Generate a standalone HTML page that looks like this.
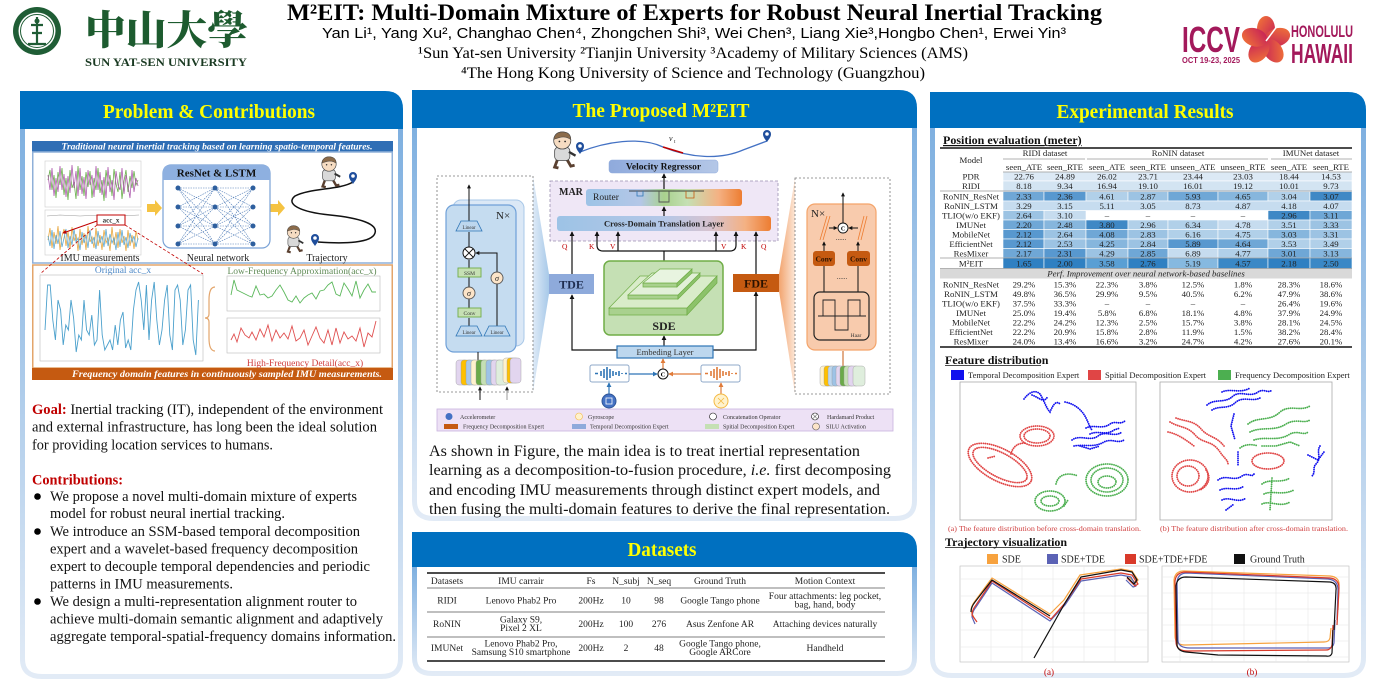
<!DOCTYPE html>
<html><head><meta charset="utf-8">
<style>
html,body{margin:0;padding:0;background:#fff;width:1394px;height:693px;overflow:hidden;}
svg{display:block;}
text{font-family:"Liberation Serif","Noto Serif CJK SC",serif;}
.sans{font-family:"Liberation Sans","DejaVu Sans",sans-serif;}
</style></head><body>
<svg width="1394" height="693" viewBox="0 0 1394 693" xmlns="http://www.w3.org/2000/svg">
<defs>
<linearGradient id="side" x1="0" y1="0" x2="0" y2="1"><stop offset="0" stop-color="#7fb0e0"/><stop offset="1" stop-color="#e2ebf6"/></linearGradient>
<linearGradient id="rg" x1="0" y1="0" x2="1" y2="0"><stop offset="0" stop-color="#9dc3e6"/><stop offset=".35" stop-color="#b4c7e7"/><stop offset=".5" stop-color="#a9d18e"/><stop offset=".65" stop-color="#c5e0b4"/><stop offset=".85" stop-color="#f4b183"/><stop offset="1" stop-color="#ed7d31"/></linearGradient>
<linearGradient id="cg" x1="0" y1="0" x2="1" y2="0"><stop offset="0" stop-color="#9dc3e6"/><stop offset=".5" stop-color="#b4c7e7"/><stop offset=".72" stop-color="#d8c3cf"/><stop offset=".88" stop-color="#f4b183"/><stop offset="1" stop-color="#ed7d31"/></linearGradient>
<linearGradient id="vg" x1="0" y1="0" x2="1" y2="0"><stop offset="0" stop-color="#8faadc"/><stop offset="1" stop-color="#b4c7e7"/></linearGradient>
<linearGradient id="fl" x1="0" y1="0" x2="1" y2="0"><stop offset="0" stop-color="#dbe8f6"/><stop offset="1" stop-color="#9dc3e6"/></linearGradient>
<linearGradient id="fr" x1="0" y1="0" x2="1" y2="0"><stop offset="0" stop-color="#f19a5e"/><stop offset="1" stop-color="#fbe3d2"/></linearGradient>
<linearGradient id="flower" x1="0" y1="0" x2="1" y2="1"><stop offset="0" stop-color="#f47a35"/><stop offset="1" stop-color="#c2185b"/></linearGradient>
<marker id="ah" viewBox="0 0 6 6" refX="5" refY="3" markerWidth="4" markerHeight="4" orient="auto"><path d="M0 0L6 3L0 6Z" fill="#111"/></marker>
<marker id="ahb" viewBox="0 0 6 6" refX="5" refY="3" markerWidth="4" markerHeight="4" orient="auto"><path d="M0 0L6 3L0 6Z" fill="#2e75b6"/></marker>
<marker id="aho" viewBox="0 0 6 6" refX="5" refY="3" markerWidth="4" markerHeight="4" orient="auto"><path d="M0 0L6 3L0 6Z" fill="#e07b39"/></marker>
<marker id="ahr" viewBox="0 0 6 6" refX="5" refY="3" markerWidth="4" markerHeight="4" orient="auto"><path d="M0 0L6 3L0 6Z" fill="#c00000"/></marker>
<g id="kid">
 <path d="M10 30 L7 38 L11 39 M20 30 L24 37 L28 36" stroke="#5a4030" stroke-width="3" fill="none"/>
 <rect x="7" y="17" width="16" height="14" rx="4" fill="#d9d9d9" stroke="#444" stroke-width=".8"/>
 <circle cx="15" cy="10" r="9" fill="#f6dcc2" stroke="#444" stroke-width=".8"/>
 <path d="M6 9 Q7 1 15 1 Q24 1 24 9 Q18 5 12 7 Q8 8 6 9Z" fill="#8b6b4a" stroke="#444" stroke-width=".6"/>
 <circle cx="12" cy="11" r=".9" fill="#222"/><circle cx="18" cy="11" r=".9" fill="#222"/>
 <path d="M22 22 L29 26" stroke="#333" stroke-width="2.5"/>
</g>
<g id="pin"><path d="M0 0 C-2 -3 -4 -5 -4 -8 A4 4 0 1 1 4 -8 C4 -5 2 -3 0 0Z" fill="#1f4e9c"/><circle cx="0" cy="-8" r="1.8" fill="#fff"/></g>
</defs>

<!-- ============ HEADER ============ -->
<circle cx="37" cy="31" r="24" fill="#1f5d35"/>
<circle cx="37" cy="31" r="18.5" fill="#fff"/>
<circle cx="37" cy="31" r="16.5" fill="none" stroke="#1f5d35" stroke-width="1"/>
<path d="M37 17 L37 44 M31 25 L43 25 M32 33 L42 33 M28 44 L46 44" stroke="#1f5d35" stroke-width="2.2" fill="none"/>
<circle cx="37" cy="21" r="2.5" fill="#1f5d35"/>
<text x="85" y="44" font-family="Noto Serif CJK SC, serif" font-size="40" font-weight="900" fill="#1d5b2f" textLength="163" lengthAdjust="spacingAndGlyphs">中山大學</text>
<text x="85" y="66" font-size="11.5" font-weight="bold" fill="#1a3a22" textLength="162" lengthAdjust="spacingAndGlyphs">SUN  YAT-SEN UNIVERSITY</text>

<text x="287" y="20" font-size="23" font-weight="bold" fill="#000" textLength="815" lengthAdjust="spacingAndGlyphs">M²EIT: Multi-Domain Mixture of Experts for Robust Neural Inertial Tracking</text>
<text class="sans" x="322" y="38" font-size="15" fill="#000" textLength="744" lengthAdjust="spacingAndGlyphs">Yan Li¹, Yang Xu², Changhao Chen⁴, Zhongchen Shi³, Wei Chen³, Liang Xie³,Hongbo Chen¹, Erwei Yin³</text>
<text x="418" y="58" font-size="16" fill="#000" textLength="550" lengthAdjust="spacingAndGlyphs">¹Sun Yat-sen University ²Tianjin University ³Academy of Military Sciences (AMS)</text>
<text x="461" y="78" font-size="16" fill="#000" textLength="464" lengthAdjust="spacingAndGlyphs">⁴The Hong Kong University of Science and Technology (Guangzhou)</text>

<!-- ICCV logo -->
<text class="sans" x="1182" y="52" font-size="36" font-weight="bold" fill="#a3195b" textLength="58" lengthAdjust="spacingAndGlyphs">ICCV</text>
<text class="sans" x="1182" y="63" font-size="8" font-weight="bold" fill="#a3195b" textLength="58" lengthAdjust="spacingAndGlyphs">OCT 19-23, 2025</text>
<g transform="translate(1266,41)" fill="url(#flower)">
<ellipse cx="0" cy="-12" rx="9" ry="13"/>
<ellipse cx="0" cy="-12" rx="9" ry="13" transform="rotate(72)"/>
<ellipse cx="0" cy="-12" rx="9" ry="13" transform="rotate(144)"/>
<ellipse cx="0" cy="-12" rx="9" ry="13" transform="rotate(216)"/>
<ellipse cx="0" cy="-12" rx="9" ry="13" transform="rotate(288)"/>
<path d="M0 0 L12 -16" stroke="#fff" stroke-width="1.5"/>
</g>
<text class="sans" x="1291" y="37" font-size="17" font-weight="bold" fill="#a3195b" textLength="62" lengthAdjust="spacingAndGlyphs">HONOLULU</text>
<text class="sans" x="1291" y="63" font-size="28" font-weight="bold" fill="#a3195b" textLength="62" lengthAdjust="spacingAndGlyphs">HAWAII</text>

<!-- ============ PANELS ============ -->
<!-- left -->
<path d="M22.5 129 L22.5 659 Q22.5 676.5 42 676.5 L381 676.5 Q400.5 676.5 400.5 659 L400.5 129" fill="#fff" stroke="url(#side)" stroke-width="5"/>
<path d="M20 91 L385 91 Q403 91 403 109 L403 129 L20 129Z" fill="#0070c0"/>
<text x="209" y="118" text-anchor="middle" font-size="20" font-weight="bold" fill="#ffff00" textLength="212" lengthAdjust="spacingAndGlyphs">Problem &amp; Contributions</text>
<!-- middle -->
<path d="M414.5 128 L414.5 501 Q414.5 518.5 434 518.5 L895 518.5 Q914.5 518.5 914.5 501 L914.5 128" fill="#fff" stroke="url(#side)" stroke-width="5"/>
<path d="M412 90 L899 90 Q917 90 917 108 L917 128 L412 128Z" fill="#0070c0"/>
<text x="661" y="117" text-anchor="middle" font-size="20" font-weight="bold" fill="#ffff00" textLength="177" lengthAdjust="spacingAndGlyphs">The Proposed M²EIT</text>
<!-- datasets -->
<path d="M414.5 567 L414.5 658 Q414.5 673.5 432 673.5 L897 673.5 Q914.5 673.5 914.5 658 L914.5 567" fill="#fff" stroke="url(#side)" stroke-width="5"/>
<path d="M412 532 L899 532 Q917 532 917 550 L917 567 L412 567Z" fill="#0070c0"/>
<text x="662" y="556" text-anchor="middle" font-size="20" font-weight="bold" fill="#ffff00" textLength="69" lengthAdjust="spacingAndGlyphs">Datasets</text>
<!-- right -->
<path d="M932.5 128 L932.5 658 Q932.5 675.5 952 675.5 L1344 675.5 Q1363.5 675.5 1363.5 658 L1363.5 128" fill="#fff" stroke="url(#side)" stroke-width="5"/>
<path d="M930 92 L1348 92 Q1366 92 1366 110 L1366 128 L930 128Z" fill="#0070c0"/>
<text x="1145" y="118" text-anchor="middle" font-size="20" font-weight="bold" fill="#ffff00" textLength="177" lengthAdjust="spacingAndGlyphs">Experimental Results</text>

<!-- ============ LEFT FIGURE ============ -->
<rect x="32" y="141" width="361" height="11" fill="#2f6eb5"/>
<text x="217" y="149.5" text-anchor="middle" font-size="9.5" font-style="italic" font-weight="bold" fill="#fff" textLength="311" lengthAdjust="spacingAndGlyphs">Traditional neural inertial tracking based on learning spatio-temporal features.</text>
<rect x="32.75" y="152" width="359.5" height="111" fill="#fff" stroke="#8fb0d9" stroke-width="1.5"/>
<!-- IMU plots -->
<rect x="45" y="161" width="96" height="46" fill="#fff" stroke="#ccc" stroke-width=".6"/>
<polyline fill="none" stroke="#6ab04c" stroke-width=".8" points="48,180 50,170 52,190 54,175 56,198 58,172 60,185 62,168 64,195 66,178 68,200 70,170 72,188 74,182 76,199 78,166 80,190 82,176 84,196 86,172 88,187 90,171 92,198 94,178 96,190 98,168 100,193 102,180 104,201 106,170 108,186 110,175 112,196 114,169 116,184 118,192 120,172 122,199 124,181 126,170 128,192 130,176 132,188 134,171 136,185 138,180"/>
<polyline fill="none" stroke="#b060b0" stroke-width=".8" points="48,175 50,190 52,168 54,196 56,178 58,192 60,166 62,190 64,174 66,197 68,176 70,193 72,165 74,188 76,171 78,196 80,168 82,194 84,177 86,199 88,170 90,185 92,175 94,197 96,166 98,190 100,172 102,195 104,177 106,198 108,167 110,192 112,180 114,200 116,171 118,185 120,190 122,168 124,194 126,175 128,186 130,198 132,170 134,192 136,178 138,186"/>
<rect x="45" y="210" width="96" height="45" fill="#fff" stroke="#ccc" stroke-width=".6"/>
<polyline fill="none" stroke="#999" stroke-width=".6" points="47,216 60,215 80,216 100,215 120,216 139,215"/>
<polyline fill="none" stroke="#e8a840" stroke-width=".8" points="48,240 50,228 52,248 54,232 56,244 58,226 60,250 62,236 64,229 66,246 68,231 70,249 72,227 74,241 76,234 78,251 80,229 82,245 84,233 86,250 88,226 90,242 92,237 94,248 96,228 98,246 100,235 102,250 104,230 106,243 108,238 110,251 112,227 114,245 116,232 118,248 120,229 122,243 124,236 126,251 128,230 130,246 132,235 134,249 136,231 138,240"/>
<polyline fill="none" stroke="#5fa8d3" stroke-width=".8" points="48,236 50,246 52,230 54,249 56,235 58,244 60,231 62,247 64,238 66,229 68,248 70,236 72,245 74,229 76,242 78,238 80,250 82,232 84,243 86,235 88,248 90,230 92,244 94,237 96,249 98,231 100,243 102,236 104,247 106,229 108,246 110,234 112,243 114,238 116,250 118,232 120,247 122,230 124,245 126,237 128,248 130,233 132,242 134,236 136,247 138,238"/>
<rect x="97" y="215" width="28" height="10" fill="#fff" stroke="#c00000" stroke-width="1"/>
<text x="111" y="222.5" text-anchor="middle" font-size="7" font-weight="bold" fill="#333">acc_x</text>
<path d="M97 221 L63 233" stroke="#c00000" stroke-width="1" marker-end="url(#ahr)"/>
<text x="100" y="261" text-anchor="middle" font-size="10" fill="#222">IMU measurements</text>
<!-- yellow arrows -->
<path d="M147 204 L155 204 L155 200 L162 208 L155 216 L155 212 L147 212Z" fill="#f5c342"/>
<path d="M270 204 L278 204 L278 200 L285 208 L278 216 L278 212 L270 212Z" fill="#f5c342"/>
<!-- ResNet box -->
<rect x="163" y="165" width="107" height="83" rx="8" fill="#fff" stroke="#7aa2d6" stroke-width="1.2"/>
<path d="M163 180 L163 172 Q163 165 170 165 L263 165 Q270 165 270 172 L270 180Z" fill="#8eb0e0"/>
<text x="216.5" y="176.5" text-anchor="middle" font-size="11" font-weight="bold" fill="#111">ResNet &amp; LSTM</text>
<g stroke="#4a78b5" stroke-width=".6" stroke-dasharray="1.5 1" fill="none">
<path d="M178 188L215 188M178 188L215 207M178 188L215 226M178 188L215 244M178 207L215 188M178 207L215 207M178 207L215 226M178 207L215 244M178 226L215 188M178 226L215 207M178 226L215 226M178 226L215 244M178 244L215 188M178 244L215 207M178 244L215 226M178 244L215 244"/>
<path d="M215 188L253 188M215 188L253 207M215 188L253 226M215 188L253 244M215 207L253 188M215 207L253 207M215 207L253 226M215 207L253 244M215 226L253 188M215 226L253 207M215 226L253 226M215 226L253 244M215 244L253 188M215 244L253 207M215 244L253 226M215 244L253 244"/>
</g>
<g fill="#2e5f9e">
<circle cx="178" cy="188" r="2.5"/><circle cx="178" cy="207" r="2.5"/><circle cx="178" cy="226" r="2.5"/><circle cx="178" cy="244" r="2.5"/>
<circle cx="215" cy="188" r="2.5"/><circle cx="215" cy="207" r="2.5"/><circle cx="215" cy="226" r="2.5"/><circle cx="215" cy="244" r="2.5"/>
<circle cx="253" cy="188" r="2.5"/><circle cx="253" cy="207" r="2.5"/><circle cx="253" cy="226" r="2.5"/><circle cx="253" cy="244" r="2.5"/>
</g>
<text x="218" y="261" text-anchor="middle" font-size="10" fill="#222">Neural network</text>
<!-- trajectory -->
<path d="M353 182 C340 190 310 188 295 196 C285 204 300 212 330 215 C360 218 378 224 375 233 C372 243 345 244 318 242" fill="none" stroke="#111" stroke-width="1.5"/>
<use href="#kid" transform="translate(317,156) scale(0.8)"/>
<use href="#kid" transform="translate(283,225) scale(0.7)"/>
<use href="#pin" transform="translate(353,184)"/>
<use href="#pin" transform="translate(315,246)"/>
<text x="327" y="261" text-anchor="middle" font-size="10" fill="#222">Trajectory</text>
<!-- lower box -->
<rect x="32.75" y="265" width="359.5" height="103" fill="#fff" stroke="#e3a56b" stroke-width="1.5"/>
<path d="M97 225 L40 274 M125 225 L203 274" stroke="#c00000" stroke-width=".8" stroke-dasharray="3 2" fill="none"/>
<text x="123" y="273" text-anchor="middle" font-size="9.5" fill="#4a86c5">Original acc_x</text>
<rect x="40" y="275" width="163" height="86" fill="#fff" stroke="#bbb" stroke-width=".6"/>
<polyline fill="none" stroke="#4ba0cc" stroke-width=".9" points="45,330 47.6,285 50.2,285 52.8,320 55.4,340 58,300 60.6,310 63.2,345 65.8,325 68.4,330 71,300 73.6,318 76.2,352 78.8,335 81.4,340 84,300 86.6,330 89.2,335 91.8,315 94.4,345 97,340 99.6,290 102.2,335 104.8,350 107.4,345 110,340 112.6,350 115.2,325 117.8,345 120.4,320 123,312 125.6,348 128.2,340 130.8,350 133.4,310 136,290 138.6,282 141.2,300 143.8,330 146.4,285 149,340 151.6,300 154.2,282 156.8,320 159.4,345 162,330 164.6,300 167.2,285 169.8,335 172.4,350 175,290 177.6,285 180.2,300 182.8,345 185.4,330 188,290 190.6,285 193.2,340 195.8,355 198.4,300"/>
<path d="M215 287 Q209 287 209 300 L209 314 Q209 318 205 318 Q209 318 209 322 L209 338 Q209 351 215 351" fill="none" stroke="#e3a56b" stroke-width="1.2"/>
<text x="302" y="274" text-anchor="middle" font-size="9.5" fill="#5f8a55">Low-Frequency Approximation(acc_x)</text>
<rect x="227" y="276" width="153" height="35" fill="#fff" stroke="#bbb" stroke-width=".6"/>
<polyline fill="none" stroke="#5cb85c" stroke-width=".9" points="231,295 234,280 237,290 241,292 245,294 249,296 252,297 256,286 260,295 264,294 268,298 272,296 276,290 280,285 284,292 288,300 292,302 296,296 300,303 304,298 308,295 312,293 316,299 320,291 324,290 328,285 332,282 336,294 340,296 344,283 348,289 352,296 356,281 360,298 364,290 368,284 372,292 376,292"/>
<rect x="227" y="318" width="153" height="35" fill="#fff" stroke="#bbb" stroke-width=".6"/>
<polyline fill="none" stroke="#e05050" stroke-width=".9" points="231,340 234,334 237,342 241,328 245,335 249,338 252,332 256,340 260,329 264,337 268,325 272,341 276,330 280,338 284,333 288,339 292,326 296,341 300,338 304,330 308,345 312,336 316,327 320,338 324,343 328,330 332,345 336,328 340,343 344,332 348,339 352,336 356,341 360,328 364,347 368,333 372,337 376,321"/>
<text x="305" y="366" text-anchor="middle" font-size="9.5" fill="#d04040">High-Frequency Detail(acc_x)</text>
<rect x="32" y="368" width="361" height="12" fill="#c55a11"/>
<text x="227" y="377" text-anchor="middle" font-size="9.5" font-style="italic" font-weight="bold" fill="#fff" textLength="310" lengthAdjust="spacingAndGlyphs">Frequency domain features in continuously sampled IMU measurements.</text>

<!-- ============ LEFT TEXT ============ -->
<g font-size="15" fill="#111">
<text x="32" y="414" textLength="351" lengthAdjust="spacingAndGlyphs"><tspan fill="#c00000" font-weight="bold">Goal:</tspan> Inertial tracking (IT), independent of the environment</text>
<text x="32" y="431.5" textLength="345" lengthAdjust="spacingAndGlyphs">and external infrastructure, has long been the ideal solution</text>
<text x="32" y="449.5" textLength="241" lengthAdjust="spacingAndGlyphs">for providing location services to humans.</text>
<text x="32" y="484.5" font-weight="bold" fill="#c00000" textLength="91" lengthAdjust="spacingAndGlyphs">Contributions:</text>
<circle cx="37.5" cy="496.5" r="3.3" fill="#000"/>
<text x="50" y="501" textLength="307" lengthAdjust="spacingAndGlyphs">We propose a novel multi-domain mixture of experts</text>
<text x="50" y="518" textLength="235" lengthAdjust="spacingAndGlyphs">model for robust neural inertial tracking.</text>
<circle cx="37.5" cy="531.5" r="3.3" fill="#000"/>
<text x="50" y="536" textLength="310" lengthAdjust="spacingAndGlyphs">We introduce an SSM-based temporal decomposition</text>
<text x="50" y="553.5" textLength="308" lengthAdjust="spacingAndGlyphs">expert and a wavelet-based frequency decomposition</text>
<text x="50" y="571" textLength="320" lengthAdjust="spacingAndGlyphs">expert to decouple temporal dependencies and periodic</text>
<text x="50" y="588.5" textLength="183" lengthAdjust="spacingAndGlyphs">patterns in IMU measurements.</text>
<circle cx="37.5" cy="601.5" r="3.3" fill="#000"/>
<text x="50" y="606" textLength="307" lengthAdjust="spacingAndGlyphs">We design a multi-representation alignment router to</text>
<text x="50" y="623.5" textLength="333" lengthAdjust="spacingAndGlyphs">achieve multi-domain semantic alignment and adaptively</text>
<text x="50" y="641" textLength="346" lengthAdjust="spacingAndGlyphs">aggregate temporal-spatial-frequency domains information.</text>
</g>

<!-- ============ MIDDLE FIGURE ============ -->
<!-- top curve -->
<path d="M580 152 C605 142 640 136 663 147 C690 158 720 160 743 150 L767 141" fill="none" stroke="#4472c4" stroke-width="1.3"/>
<path d="M663 147 L683 153" stroke="#c00000" stroke-width="1.5"/>
<text x="669" y="141" font-size="8" font-style="italic" fill="#222">v</text><text x="674" y="143" font-size="5" fill="#222">t</text>
<use href="#pin" transform="translate(580,154)"/>
<use href="#pin" transform="translate(767,142)"/>
<use href="#kid" transform="translate(548,131) scale(0.95)"/>
<!-- velocity regressor -->
<rect x="609" y="160" width="109" height="13" rx="3" fill="url(#vg)" stroke="#8faadc" stroke-width=".5"/>
<text x="663.5" y="169.5" text-anchor="middle" font-size="9.5" font-weight="bold" fill="#111">Velocity Regressor</text>
<!-- MAR -->
<rect x="550" y="181" width="228" height="60" fill="#efe7f6" stroke="#9a8fb0" stroke-width=".8" stroke-dasharray="3 2"/>
<text x="559" y="195" font-size="10" font-weight="bold" fill="#222">MAR</text>
<path d="M664 189 L664 174" stroke="#111" stroke-width="1.2" marker-end="url(#ah)"/>
<rect x="586" y="189" width="156" height="17" rx="3" fill="url(#rg)"/>
<text x="593" y="200" font-size="9.5" fill="#222">Router</text>
<path d="M629 191 L704 191" stroke="#111" stroke-width=".8"/>
<path d="M637 191 L637 196 L643 196 L643 191" fill="none" stroke="#2e75b6" stroke-width=".8"/>
<path d="M659 191 L659 202 L669 202 L669 191" fill="none" stroke="#555" stroke-width=".9"/>
<path d="M686 191 L686 198 L694 198 L694 191" fill="none" stroke="#c55a11" stroke-width=".8"/>
<path d="M664 216 L664 207" stroke="#111" stroke-width="1.2" marker-end="url(#ah)"/>
<rect x="557" y="216" width="214" height="15" rx="3" fill="url(#cg)"/>
<text x="664" y="226.5" text-anchor="middle" font-size="8.5" font-weight="bold" fill="#222">Cross-Domain Translation Layer</text>
<g stroke="#111" stroke-width="1.2" fill="none">
<path d="M572 274 L572 232" marker-end="url(#ah)"/>
<path d="M756 274 L756 232" marker-end="url(#ah)"/>
<path d="M664 261 L664 251"/>
<path d="M597 232 L597 245 Q597 251 603 251 L730 251 Q736 251 736 245 L736 232" />
<path d="M597 238 L597 232" marker-end="url(#ah)"/>
<path d="M736 238 L736 232" marker-end="url(#ah)"/>
<path d="M618 251 L618 232" marker-end="url(#ah)"/>
<path d="M716 251 L716 232" marker-end="url(#ah)"/>
<path d="M617 350 L572 350 L572 295" marker-end="url(#ah)"/>
<path d="M713 350 L756 350 L756 292" marker-end="url(#ah)"/>
<path d="M664 346 L664 336" marker-end="url(#ah)"/>
</g>
<g font-size="7.5" fill="#c00000">
<text x="562" y="249">Q</text><text x="589" y="249">K</text><text x="610" y="249">V</text>
<text x="721" y="249">V</text><text x="741" y="249">K</text><text x="761" y="249">Q</text>
</g>
<!-- funnels -->
<polygon points="533,176 549,274 549,294 533,392" fill="url(#fl)" opacity=".9"/>
<polygon points="779,274 795,178 795,394 779,291" fill="url(#fr)" opacity=".9"/>
<!-- TDE FDE SDE -->
<rect x="549" y="274" width="45" height="20" fill="#8eaadb"/>
<text x="571.5" y="288.5" text-anchor="middle" font-size="12" font-weight="bold" fill="#1f2d4f">TDE</text>
<rect x="733" y="274" width="46" height="18" fill="#c55a11"/>
<text x="756" y="287.5" text-anchor="middle" font-size="12" font-weight="bold" fill="#2b1200">FDE</text>
<rect x="604" y="261" width="119" height="74" rx="6" fill="#c5e0b4" stroke="#70ad47" stroke-width="1.5"/>
<g stroke="#70ad47" stroke-width=".7">
<polygon points="609,308 687,308 687,315 609,315" fill="#a9d18e"/>
<polygon points="687,308 717,276 717,283 687,315" fill="#8cc26a"/>
<polygon points="609,308 640,276 717,276 687,308" fill="#d9ecc9"/>
<polygon points="628,295 678,295 678,299 628,299" fill="#a9d18e"/>
<polygon points="678,295 700,273 700,277 678,299" fill="#8cc26a"/>
<polygon points="628,295 652,273 700,273 678,295" fill="#e2f0d8"/>
<polygon points="643,283 677,283 677,287 643,287" fill="#a9d18e"/>
<polygon points="677,283 692,269 692,273 677,287" fill="#8cc26a"/>
<polygon points="643,283 660,269 692,269 677,283" fill="#e8f4e0"/>
</g>
<text x="664" y="330" text-anchor="middle" font-size="12" font-weight="bold" fill="#222">SDE</text>
<rect x="617" y="346" width="96" height="12" fill="#bdd7ee" stroke="#2e75b6" stroke-width="1.2"/>
<text x="665" y="355" text-anchor="middle" font-size="8.5" fill="#333">Embeding Layer</text>
<!-- signal boxes -->
<rect x="590" y="365" width="39" height="17" rx="2" fill="#fff" stroke="#8fa9c9" stroke-width="1"/>
<g stroke="#2e75b6" stroke-width="1.6">
<path d="M595 373.5 L598 373.5 M601 371 L601 376 M604 369 L604 378 M607 367 L607 380 M610 369 L610 378 M613 371 L613 376 M616 372 L616 375 M619 371 L619 376 M622 373 L622 374 M625 373.5 L627 373.5"/>
</g>
<rect x="701" y="365" width="39" height="17" rx="2" fill="#fff" stroke="#8fa9c9" stroke-width="1"/>
<g stroke="#e07b39" stroke-width="1.6">
<path d="M705 373.5 L708 373.5 M711 371 L711 376 M714 369 L714 378 M717 367 L717 380 M720 369 L720 378 M723 371 L723 376 M726 372 L726 375 M729 371 L729 376 M732 373 L732 374 M735 373.5 L737 373.5"/>
</g>
<path d="M629 374 L657 374" stroke="#2e75b6" stroke-width="1.2" marker-end="url(#ahb)"/>
<path d="M701 374 L669 374" stroke="#e07b39" stroke-width="1.2" marker-end="url(#aho)"/>
<path d="M663 369 L663 359" stroke="#e07b39" stroke-width="1.2" marker-end="url(#aho)"/>
<circle cx="663" cy="374" r="5" fill="#fff" stroke="#111" stroke-width="1"/>
<text x="663" y="376.5" text-anchor="middle" font-size="6.5" font-weight="bold">C</text>
<path d="M609 394 L609 383" stroke="#2e75b6" stroke-width="1.2" marker-end="url(#ahb)"/>
<path d="M721 394 L721 383" stroke="#e07b39" stroke-width="1.2" marker-end="url(#aho)"/>
<circle cx="609" cy="401" r="7" fill="#4472c4" stroke="#2f5597" stroke-width="1"/>
<rect x="606" y="398" width="6" height="6" fill="none" stroke="#fff" stroke-width=".8"/>
<circle cx="721" cy="401" r="7" fill="#fff2cc" stroke="#f4b942" stroke-width="1"/>
<path d="M718 398 L724 404 M724 398 L718 404" stroke="#f4b942" stroke-width=".8"/>
<!-- left TDE detail -->
<rect x="437" y="176" width="96" height="216" fill="none" stroke="#777" stroke-width=".8" stroke-dasharray="2 2"/>
<path d="M469 200 L488 205" stroke="#bbb" stroke-width=".8"/>
<rect x="453" y="200" width="71" height="146" rx="8" fill="#dbe8f6" stroke="#a9c8e8" stroke-width="1"/>
<rect x="446" y="205" width="70" height="147" rx="8" fill="#c5dcf0" stroke="#6fa0d8" stroke-width="1.2"/>
<text x="496" y="219" font-size="11" fill="#222">N×</text>
<g stroke="#111" stroke-width="1" fill="none">
<path d="M469 221 L469 185" marker-end="url(#ah)"/>
<path d="M469 247 L469 232"/>
<path d="M469 268 L469 260"/>
<path d="M469 287 L469 277"/>
<path d="M469 308 L469 299"/>
<path d="M469 326 L469 318"/>
<path d="M497 326 L497 284"/>
<path d="M497 272 L497 253 L476 253" marker-end="url(#ah)"/>
<path d="M478 352 L478 362"/>
<path d="M480 400 L480 387" marker-end="url(#ah)"/>
</g>
<path d="M507 400 L507 387" stroke="#999" stroke-width="1" marker-end="url(#ah)"/>
<polygon points="461,221 477,221 482,231 456,231" fill="#bdd7ee" stroke="#2e75b6" stroke-width=".8"/>
<text x="469" y="229" text-anchor="middle" font-size="5" fill="#333">Linear</text>
<circle cx="469" cy="253" r="6" fill="#fff" stroke="#111" stroke-width="1"/>
<path d="M465 249 L473 257 M473 249 L465 257" stroke="#111" stroke-width=".9"/>
<rect x="458" y="268" width="23" height="9" fill="#c6e0b4" stroke="#70ad47" stroke-width=".9"/>
<text x="469.5" y="275" text-anchor="middle" font-size="5.5" fill="#333">SSM</text>
<circle cx="469" cy="293" r="6" fill="#fce4c8" stroke="#555" stroke-width=".9"/>
<text x="469" y="296" text-anchor="middle" font-size="8" font-style="italic" fill="#222">σ</text>
<circle cx="497" cy="278" r="6" fill="#fce4c8" stroke="#555" stroke-width=".9"/>
<text x="497" y="281" text-anchor="middle" font-size="8" font-style="italic" fill="#222">σ</text>
<rect x="458" y="308" width="23" height="9" fill="#c6e0b4" stroke="#70ad47" stroke-width=".9"/>
<text x="469.5" y="315" text-anchor="middle" font-size="5.5" fill="#333">Conv</text>
<polygon points="461,326 477,326 482,336 456,336" fill="#bdd7ee" stroke="#2e75b6" stroke-width=".8"/>
<text x="469" y="334" text-anchor="middle" font-size="5" fill="#333">Linear</text>
<polygon points="489,326 505,326 510,336 484,336" fill="#bdd7ee" stroke="#2e75b6" stroke-width=".8"/>
<text x="497" y="334" text-anchor="middle" font-size="5" fill="#333">Linear</text>
<g stroke="#999" stroke-width=".4">
<rect x="456" y="360" width="12" height="25" rx="3" fill="#e2d5ef"/>
<rect x="461" y="360" width="12" height="25" rx="3" fill="#ffc000"/>
<rect x="466" y="360" width="12" height="25" rx="3" fill="#a9c9ea"/>
<rect x="471" y="360" width="12" height="25" rx="3" fill="#fff2cc"/>
<rect x="476" y="360" width="12" height="25" rx="3" fill="#6aaa48"/>
<rect x="481" y="360" width="12" height="25" rx="3" fill="#c5e0b4"/>
<rect x="486" y="360" width="12" height="25" rx="3" fill="#9dc3e6"/>
<rect x="491" y="360" width="12" height="25" rx="3" fill="#e2d5ef"/>
<rect x="496" y="360" width="12" height="25" rx="3" fill="#dfeedd"/>
<rect x="503" y="358" width="12" height="25" rx="3" fill="#fff2cc"/>
<rect x="507" y="358" width="12" height="25" rx="3" fill="#ffc000"/>
<rect x="510" y="358" width="11" height="25" rx="3" fill="#e2d5ef"/>
</g>
<!-- right FDE detail -->
<rect x="795" y="178" width="95" height="216" fill="none" stroke="#777" stroke-width=".8" stroke-dasharray="2 2"/>
<rect x="807" y="204" width="69" height="146" rx="8" fill="#f8cbad" stroke="#f4a46a" stroke-width="1.2"/>
<text x="811" y="217" font-size="11" fill="#222">N×</text>
<g stroke="#111" stroke-width="1" fill="none">
<path d="M843 223 L843 193" marker-end="url(#ah)"/>
<path d="M829 228 L837 228" marker-end="url(#ah)"/>
<path d="M858 228 L849 228" marker-end="url(#ah)"/>
<path d="M824 251 L824 242" marker-end="url(#ah)"/>
<path d="M858 251 L858 242" marker-end="url(#ah)"/>
<path d="M824 292 L824 266 M858 292 L858 266"/>
</g>
<path d="M820 240 L827 216 M823 240 L830 216 M858 240 L864 216 M861 240 L867 216" stroke="#ed7d31" stroke-width=".8"/>
<circle cx="843" cy="228" r="5" fill="#fff" stroke="#111" stroke-width=".9"/>
<text x="843" y="230.5" text-anchor="middle" font-size="6" font-weight="bold">C</text>
<text x="841" y="240" text-anchor="middle" font-size="7" fill="#333">......</text>
<rect x="813" y="251" width="22" height="15" rx="3" fill="#c55a11"/>
<text x="824" y="261.5" text-anchor="middle" font-size="7.5" font-weight="bold" fill="#2b1200">Conv</text>
<rect x="847" y="251" width="23" height="15" rx="3" fill="#c55a11"/>
<text x="858.5" y="261.5" text-anchor="middle" font-size="7.5" font-weight="bold" fill="#2b1200">Conv</text>
<text x="842" y="279" text-anchor="middle" font-size="7" fill="#333">......</text>
<rect x="814" y="292" width="55" height="48" rx="6" fill="none" stroke="#222" stroke-width="1.2"/>
<path d="M818 316 L823 316 L823 300 L835 300 L835 330 L848 330 L848 300 L860 300 L860 316 L866 316 M818 316 L866 316" fill="none" stroke="#222" stroke-width=".9"/>
<text x="856" y="337" text-anchor="middle" font-size="5.5" fill="#333">Haar</text>
<path d="M843 351 L843 366" stroke="#c55a11" stroke-width="1"/>
<g stroke="#999" stroke-width=".4">
<rect x="820" y="366" width="11" height="20" rx="3" fill="#fff2cc"/>
<rect x="824" y="366" width="11" height="20" rx="3" fill="#ffc000"/>
<rect x="828" y="366" width="11" height="20" rx="3" fill="#bdd7ee"/>
<rect x="832" y="366" width="11" height="20" rx="3" fill="#9dc3e6"/>
<rect x="836" y="366" width="11" height="20" rx="3" fill="#e2d5ef"/>
<rect x="840" y="366" width="11" height="20" rx="3" fill="#6aaa48"/>
<rect x="844" y="366" width="11" height="20" rx="3" fill="#c5e0b4"/>
<rect x="848" y="366" width="11" height="20" rx="3" fill="#e2d5ef"/>
<rect x="853" y="366" width="12" height="20" rx="3" fill="#dfeedd"/>
</g>
<!-- legend -->
<rect x="437" y="409" width="456" height="22" fill="#ede1f5" stroke="#c9b3de" stroke-width=".8"/>
<g font-size="6" fill="#333">
<circle cx="449" cy="416.5" r="3.5" fill="#4472c4"/><text x="460" y="419">Accelerometer</text>
<circle cx="579" cy="416.5" r="3.5" fill="#fff2cc" stroke="#f4b942" stroke-width=".6"/><text x="588" y="419">Gyroscope</text>
<circle cx="713" cy="416.5" r="3.5" fill="#fff" stroke="#111" stroke-width=".6"/><text x="723" y="419">Concatenation Operator</text>
<circle cx="815" cy="416.5" r="3.5" fill="#fff" stroke="#111" stroke-width=".6"/><path d="M813 414.5 L817 418.5 M817 414.5 L813 418.5" stroke="#111" stroke-width=".5"/><text x="827" y="419">Hardamard Product</text>
<rect x="444" y="424" width="14" height="5" fill="#c55a11"/><text x="463" y="428.5">Frequency Decomposition Expert</text>
<rect x="572" y="424" width="14" height="5" fill="#8eaadb"/><text x="590" y="428.5">Temporal Decomposition Expert</text>
<rect x="705" y="424" width="14" height="5" fill="#c5e0b4"/><text x="723" y="428.5">Spitial Decomposition Expert</text>
<circle cx="816" cy="426.5" r="3.5" fill="#fce4c8" stroke="#555" stroke-width=".6"/><text x="826" y="428.5">SILU Activation</text>
</g>

<!-- ============ MIDDLE TEXT ============ -->
<g font-size="16" fill="#111">
<text x="429" y="456" textLength="431" lengthAdjust="spacingAndGlyphs">As shown in Figure, the main idea is to treat inertial representation</text>
<text x="429" y="475" textLength="462" lengthAdjust="spacingAndGlyphs">learning as a decomposition-to-fusion procedure, <tspan font-style="italic">i.e.</tspan> first decomposing</text>
<text x="429" y="495" textLength="451" lengthAdjust="spacingAndGlyphs">and encoding IMU measurements through distinct expert models, and</text>
<text x="429" y="514" textLength="461" lengthAdjust="spacingAndGlyphs">then fusing the multi-domain features to derive the final representation.</text>
</g>

<!-- ============ DATASETS TABLE ============ -->
<path d="M427 573 L885 573" stroke="#111" stroke-width="1.5"/>
<path d="M427 588 L885 588 M427 612 L885 612 M427 637 L885 637" stroke="#555" stroke-width=".7"/>
<path d="M427 661 L885 661" stroke="#111" stroke-width="1.5"/>
<g font-size="9.5" fill="#222" text-anchor="middle">
<text x="447" y="584">Datasets</text><text x="521" y="584">IMU carrair</text><text x="591" y="584">Fs</text><text x="626" y="584">N_subj</text><text x="659" y="584">N_seq</text><text x="720" y="584">Ground Truth</text><text x="825" y="584">Motion Context</text>
<text x="447" y="603.5">RIDI</text><text x="521" y="603.5">Lenovo Phab2 Pro</text><text x="591" y="603.5">200Hz</text><text x="626" y="603.5">10</text><text x="659" y="603.5">98</text><text x="720" y="603.5">Google Tango phone</text><text x="825" y="599">Four attachments: leg pocket,</text><text x="825" y="607.5">bag, hand, body</text>
<text x="447" y="627">RoNIN</text><text x="521" y="622.5">Galaxy S9,</text><text x="521" y="631">Pixel 2 XL</text><text x="591" y="627">200Hz</text><text x="626" y="627">100</text><text x="659" y="627">276</text><text x="720" y="627">Asus Zenfone AR</text><text x="825" y="627">Attaching devices naturally</text>
<text x="447" y="651">IMUNet</text><text x="521" y="646.5">Lenovo Phab2 Pro,</text><text x="521" y="655">Samsung S10 smartphone</text><text x="591" y="651">200Hz</text><text x="626" y="651">2</text><text x="659" y="651">48</text><text x="720" y="646.5">Google Tango phone,</text><text x="720" y="655">Google ARCore</text><text x="825" y="651">Handheld</text>
</g>

<!-- ============ RIGHT: RESULTS TABLE ============ -->
<text x="943" y="144" font-size="12" font-weight="bold" fill="#111" text-decoration="underline">Position evaluation (meter)</text>
<path d="M943 145.5 L1074 145.5" stroke="#111" stroke-width=".8"/>
<g stroke="#fff" stroke-width=".6">
<rect x="1003" y="172" width="349" height="9" fill="#dce9f5"/>
<rect x="1003" y="181" width="349" height="10" fill="#d3e4f2"/>
<!-- ResNet -->
<rect x="1003" y="191.5" width="41" height="9.5" fill="#6fa7d6"/><rect x="1044" y="191.5" width="42" height="9.5" fill="#5898cf"/><rect x="1086" y="191.5" width="42" height="9.5" fill="#b1d0e9"/><rect x="1128" y="191.5" width="40" height="9.5" fill="#9cc3e3"/><rect x="1168" y="191.5" width="50" height="9.5" fill="#6fa7d6"/><rect x="1218" y="191.5" width="50" height="9.5" fill="#86b6dd"/><rect x="1268" y="191.5" width="42" height="9.5" fill="#b1d0e9"/><rect x="1310" y="191.5" width="42" height="9.5" fill="#3f88c5"/>
<!-- LSTM -->
<rect x="1003" y="201" width="349" height="9.5" fill="#c6dcef"/>
<!-- TLIO -->
<rect x="1003" y="210.5" width="41" height="9.5" fill="#9cc3e3"/><rect x="1044" y="210.5" width="42" height="9.5" fill="#c6dcef"/><rect x="1268" y="210.5" width="42" height="9.5" fill="#3f88c5"/><rect x="1310" y="210.5" width="42" height="9.5" fill="#6fa7d6"/>
<!-- IMUNet -->
<rect x="1003" y="220" width="41" height="9.5" fill="#6fa7d6"/><rect x="1044" y="220" width="42" height="9.5" fill="#86b6dd"/><rect x="1086" y="220" width="42" height="9.5" fill="#3f88c5"/><rect x="1128" y="220" width="40" height="9.5" fill="#b1d0e9"/><rect x="1168" y="220" width="50" height="9.5" fill="#b1d0e9"/><rect x="1218" y="220" width="50" height="9.5" fill="#c6dcef"/><rect x="1268" y="220" width="42" height="9.5" fill="#b1d0e9"/><rect x="1310" y="220" width="42" height="9.5" fill="#9cc3e3"/>
<!-- MobileNet -->
<rect x="1003" y="229.5" width="41" height="9.5" fill="#5898cf"/><rect x="1044" y="229.5" width="42" height="9.5" fill="#9cc3e3"/><rect x="1086" y="229.5" width="42" height="9.5" fill="#6fa7d6"/><rect x="1128" y="229.5" width="40" height="9.5" fill="#9cc3e3"/><rect x="1168" y="229.5" width="50" height="9.5" fill="#b1d0e9"/><rect x="1218" y="229.5" width="50" height="9.5" fill="#b1d0e9"/><rect x="1268" y="229.5" width="42" height="9.5" fill="#86b6dd"/><rect x="1310" y="229.5" width="42" height="9.5" fill="#9cc3e3"/>
<!-- EfficientNet -->
<rect x="1003" y="239" width="41" height="9.5" fill="#5898cf"/><rect x="1044" y="239" width="42" height="9.5" fill="#9cc3e3"/><rect x="1086" y="239" width="42" height="9.5" fill="#86b6dd"/><rect x="1128" y="239" width="40" height="9.5" fill="#9cc3e3"/><rect x="1168" y="239" width="50" height="9.5" fill="#5898cf"/><rect x="1218" y="239" width="50" height="9.5" fill="#6fa7d6"/><rect x="1268" y="239" width="42" height="9.5" fill="#b1d0e9"/><rect x="1310" y="239" width="42" height="9.5" fill="#b1d0e9"/>
<!-- ResMixer -->
<rect x="1003" y="248.5" width="41" height="9.5" fill="#6fa7d6"/><rect x="1044" y="248.5" width="42" height="9.5" fill="#5898cf"/><rect x="1086" y="248.5" width="42" height="9.5" fill="#9cc3e3"/><rect x="1128" y="248.5" width="40" height="9.5" fill="#6fa7d6"/><rect x="1168" y="248.5" width="50" height="9.5" fill="#c6dcef"/><rect x="1218" y="248.5" width="50" height="9.5" fill="#b1d0e9"/><rect x="1268" y="248.5" width="42" height="9.5" fill="#6fa7d6"/><rect x="1310" y="248.5" width="42" height="9.5" fill="#86b6dd"/>
<!-- M2EIT -->
<rect x="1003" y="258" width="41" height="10.5" fill="#2f80c2"/><rect x="1044" y="258" width="42" height="10.5" fill="#2f80c2"/><rect x="1086" y="258" width="42" height="10.5" fill="#5a9fd4"/><rect x="1128" y="258" width="40" height="10.5" fill="#2f80c2"/><rect x="1168" y="258" width="50" height="10.5" fill="#86b9e0"/><rect x="1218" y="258" width="50" height="10.5" fill="#3a88c6"/><rect x="1268" y="258" width="42" height="10.5" fill="#2f80c2"/><rect x="1310" y="258" width="42" height="10.5" fill="#3a88c6"/>
</g>
<rect x="940" y="269" width="412" height="9.5" fill="#d9d9d9"/>
<path d="M940 148 L1352 148" stroke="#111" stroke-width="1.5"/>
<path d="M1003 159 L1085 159 M1087 159 L1268 159 M1271 159 L1352 159" stroke="#666" stroke-width=".6"/>
<path d="M1003 172 L1352 172 M940 191 L1352 191 M940 258 L1352 258 M940 268.5 L1352 268.5" stroke="#666" stroke-width=".6"/>
<path d="M940 347 L1352 347" stroke="#111" stroke-width="1.5"/>
<g font-size="8.8" fill="#222" text-anchor="middle">
<text x="971" y="163">Model</text>
<text x="1045" y="156">RIDI dataset</text><text x="1178" y="156">RoNIN dataset</text><text x="1311" y="156">IMUNet dataset</text>
<text x="1024" y="170">seen_ATE</text><text x="1065" y="170">seen_RTE</text><text x="1107" y="170">seen_ATE</text><text x="1148" y="170">seen_RTE</text><text x="1193" y="170">unseen_ATE</text><text x="1243" y="170">unseen_RTE</text><text x="1289" y="170">seen_ATE</text><text x="1331" y="170">seen_RTE</text>
</g>
<g font-size="8.8" fill="#222" text-anchor="middle">
<text y="179.5"><tspan x="971">PDR</tspan><tspan x="1024">22.76</tspan><tspan x="1065">24.89</tspan><tspan x="1107">26.02</tspan><tspan x="1148">23.71</tspan><tspan x="1193">23.44</tspan><tspan x="1243">23.03</tspan><tspan x="1289">18.44</tspan><tspan x="1331">14.53</tspan></text>
<text y="189"><tspan x="971">RIDI</tspan><tspan x="1024">8.18</tspan><tspan x="1065">9.34</tspan><tspan x="1107">16.94</tspan><tspan x="1148">19.10</tspan><tspan x="1193">16.01</tspan><tspan x="1243">19.12</tspan><tspan x="1289">10.01</tspan><tspan x="1331">9.73</tspan></text>
<text y="199.5"><tspan x="971">RoNIN_ResNet</tspan><tspan x="1024">2.33</tspan><tspan x="1065">2.36</tspan><tspan x="1107">4.61</tspan><tspan x="1148">2.87</tspan><tspan x="1193">5.93</tspan><tspan x="1243">4.65</tspan><tspan x="1289">3.04</tspan><tspan x="1331">3.07</tspan></text>
<text y="209"><tspan x="971">RoNIN_LSTM</tspan><tspan x="1024">3.29</tspan><tspan x="1065">3.15</tspan><tspan x="1107">5.11</tspan><tspan x="1148">3.05</tspan><tspan x="1193">8.73</tspan><tspan x="1243">4.87</tspan><tspan x="1289">4.18</tspan><tspan x="1331">4.07</tspan></text>
<text y="218.5"><tspan x="971">TLIO(w/o EKF)</tspan><tspan x="1024">2.64</tspan><tspan x="1065">3.10</tspan><tspan x="1107">–</tspan><tspan x="1148">–</tspan><tspan x="1193">–</tspan><tspan x="1243">–</tspan><tspan x="1289">2.96</tspan><tspan x="1331">3.11</tspan></text>
<text y="228"><tspan x="971">IMUNet</tspan><tspan x="1024">2.20</tspan><tspan x="1065">2.48</tspan><tspan x="1107">3.80</tspan><tspan x="1148">2.96</tspan><tspan x="1193">6.34</tspan><tspan x="1243">4.78</tspan><tspan x="1289">3.51</tspan><tspan x="1331">3.33</tspan></text>
<text y="237.5"><tspan x="971">MobileNet</tspan><tspan x="1024">2.12</tspan><tspan x="1065">2.64</tspan><tspan x="1107">4.08</tspan><tspan x="1148">2.83</tspan><tspan x="1193">6.16</tspan><tspan x="1243">4.75</tspan><tspan x="1289">3.03</tspan><tspan x="1331">3.31</tspan></text>
<text y="247"><tspan x="971">EfficientNet</tspan><tspan x="1024">2.12</tspan><tspan x="1065">2.53</tspan><tspan x="1107">4.25</tspan><tspan x="1148">2.84</tspan><tspan x="1193">5.89</tspan><tspan x="1243">4.64</tspan><tspan x="1289">3.53</tspan><tspan x="1331">3.49</tspan></text>
<text y="256.5"><tspan x="971">ResMixer</tspan><tspan x="1024">2.17</tspan><tspan x="1065">2.31</tspan><tspan x="1107">4.29</tspan><tspan x="1148">2.85</tspan><tspan x="1193">6.89</tspan><tspan x="1243">4.77</tspan><tspan x="1289">3.01</tspan><tspan x="1331">3.13</tspan></text>
<text y="266.5"><tspan x="971">M²EIT</tspan><tspan x="1024">1.65</tspan><tspan x="1065">2.00</tspan><tspan x="1107">3.58</tspan><tspan x="1148">2.76</tspan><tspan x="1193">5.19</tspan><tspan x="1243">4.57</tspan><tspan x="1289">2.18</tspan><tspan x="1331">2.50</tspan></text>
<text x="1146" y="276.5" font-style="italic">Perf. Improvement over neural network-based baselines</text>
<text y="287.5"><tspan x="971">RoNIN_ResNet</tspan><tspan x="1024">29.2%</tspan><tspan x="1065">15.3%</tspan><tspan x="1107">22.3%</tspan><tspan x="1148">3.8%</tspan><tspan x="1193">12.5%</tspan><tspan x="1243">1.8%</tspan><tspan x="1289">28.3%</tspan><tspan x="1331">18.6%</tspan></text>
<text y="297"><tspan x="971">RoNIN_LSTM</tspan><tspan x="1024">49.8%</tspan><tspan x="1065">36.5%</tspan><tspan x="1107">29.9%</tspan><tspan x="1148">9.5%</tspan><tspan x="1193">40.5%</tspan><tspan x="1243">6.2%</tspan><tspan x="1289">47.9%</tspan><tspan x="1331">38.6%</tspan></text>
<text y="306.5"><tspan x="971">TLIO(w/o EKF)</tspan><tspan x="1024">37.5%</tspan><tspan x="1065">33.3%</tspan><tspan x="1107">–</tspan><tspan x="1148">–</tspan><tspan x="1193">–</tspan><tspan x="1243">–</tspan><tspan x="1289">26.4%</tspan><tspan x="1331">19.6%</tspan></text>
<text y="316"><tspan x="971">IMUNet</tspan><tspan x="1024">25.0%</tspan><tspan x="1065">19.4%</tspan><tspan x="1107">5.8%</tspan><tspan x="1148">6.8%</tspan><tspan x="1193">18.1%</tspan><tspan x="1243">4.8%</tspan><tspan x="1289">37.9%</tspan><tspan x="1331">24.9%</tspan></text>
<text y="325.5"><tspan x="971">MobileNet</tspan><tspan x="1024">22.2%</tspan><tspan x="1065">24.2%</tspan><tspan x="1107">12.3%</tspan><tspan x="1148">2.5%</tspan><tspan x="1193">15.7%</tspan><tspan x="1243">3.8%</tspan><tspan x="1289">28.1%</tspan><tspan x="1331">24.5%</tspan></text>
<text y="335"><tspan x="971">EfficientNet</tspan><tspan x="1024">22.2%</tspan><tspan x="1065">20.9%</tspan><tspan x="1107">15.8%</tspan><tspan x="1148">2.8%</tspan><tspan x="1193">11.9%</tspan><tspan x="1243">1.5%</tspan><tspan x="1289">38.2%</tspan><tspan x="1331">28.4%</tspan></text>
<text y="344.5"><tspan x="971">ResMixer</tspan><tspan x="1024">24.0%</tspan><tspan x="1065">13.4%</tspan><tspan x="1107">16.6%</tspan><tspan x="1148">3.2%</tspan><tspan x="1193">24.7%</tspan><tspan x="1243">4.2%</tspan><tspan x="1289">27.6%</tspan><tspan x="1331">20.1%</tspan></text>
</g>

<!-- ============ FEATURE DISTRIBUTION ============ -->
<text x="945" y="364" font-size="12" font-weight="bold" fill="#111">Feature distribution</text>
<path d="M945 365.5 L1041 365.5" stroke="#111" stroke-width=".8"/>
<rect x="951" y="370" width="13" height="10" fill="#1010ee"/>
<text x="968" y="378" font-size="8.5" fill="#222">Temporal Decomposition Expert</text>
<rect x="1088" y="370" width="13" height="10" fill="#e04545"/>
<text x="1105" y="378" font-size="8.5" fill="#222">Spitial Decomposition Expert</text>
<rect x="1218" y="370" width="13" height="10" fill="#4caf50"/>
<text x="1235" y="378" font-size="8.5" fill="#222">Frequency Decomposition Expert</text>
<rect x="960" y="382" width="176" height="138" fill="#fff" stroke="#aaa" stroke-width=".8"/>
<rect x="1160" y="382" width="172" height="138" fill="#fff" stroke="#aaa" stroke-width=".8"/>
<g fill="none" stroke-linecap="round" stroke-dasharray="0.1 2" stroke-width="1.8">
<g stroke="#1010ee">
<path d="M1024 399 C1030 391 1036 390 1040 394 C1044 400 1046 408 1050 412 C1053 405 1056 400 1060 404"/>
<path d="M1032 395 C1040 398 1044 404 1048 396"/>
<path d="M1065 402 C1075 404 1082 410 1086 418 C1089 424 1090 428 1092 430"/>
<path d="M1072 440 C1080 434 1090 442 1098 436 C1106 430 1114 438 1122 432"/>
<path d="M1074 446 C1084 444 1094 448 1104 442 C1112 438 1118 444 1124 440"/>
<path d="M1086 428 C1094 424 1102 430 1110 424 C1116 420 1120 426 1126 420"/>
<path d="M1090 434 C1098 430 1106 436 1114 430 L1120 428"/>
<path d="M1080 446 L1090 449 L1100 446"/>
</g>
<g stroke="#e04545">
<ellipse cx="1037" cy="436" rx="17" ry="10"/>
<ellipse cx="1037" cy="436" rx="13" ry="7"/>
<ellipse cx="1000" cy="465" rx="35" ry="16" transform="rotate(28 1000 465)"/>
<ellipse cx="1000" cy="465" rx="30" ry="12" transform="rotate(28 1000 465)"/>
<path d="M1011 454 C1013 446 1018 443 1026 443"/>
<path d="M988 458 L996 456"/>
</g>
<g stroke="#4caf50">
<ellipse cx="1107" cy="480" rx="21" ry="16"/>
<ellipse cx="1107" cy="480" rx="16" ry="12"/>
<ellipse cx="1107" cy="482" rx="9" ry="6"/>
<ellipse cx="1050" cy="501" rx="15" ry="10"/>
<ellipse cx="1050" cy="501" rx="9" ry="5"/>
<path d="M1056 484 C1058 474 1068 472 1078 476"/>
<path d="M1064 506 L1068 500"/>
</g>
<g stroke="#1010ee">
<path d="M1207 405 C1215 398 1225 404 1233 396 C1241 390 1250 398 1258 392 C1264 388 1268 394 1272 390"/>
<path d="M1212 410 C1220 405 1228 410 1236 402 C1244 396 1252 402 1260 398"/>
<path d="M1222 392 C1230 388 1240 394 1250 388"/>
<path d="M1234 414 L1231 426 L1235 440"/>
<path d="M1238 452 L1238 466"/>
<path d="M1218 480 C1226 474 1234 482 1242 476 C1248 472 1252 478 1254 474"/>
<path d="M1220 490 C1228 486 1236 492 1244 486"/>
<path d="M1222 500 C1230 496 1238 504 1246 498"/>
<path d="M1226 510 L1234 504"/>
<path d="M1320 446 C1316 452 1322 458 1316 464 C1312 468 1316 472 1312 476"/>
<path d="M1308 455 L1318 460 L1324 452"/>
</g>
<g stroke="#e04545">
<path d="M1170 422 C1180 428 1188 426 1196 436 C1204 444 1212 440 1220 452 C1224 458 1228 460 1228 464"/>
<path d="M1176 418 C1186 422 1194 420 1202 430 C1210 438 1216 436 1224 446"/>
<path d="M1168 432 C1178 434 1186 440 1194 446"/>
<ellipse cx="1190" cy="476" rx="18" ry="16"/>
<ellipse cx="1188" cy="476" rx="11" ry="10"/>
<path d="M1206 470 C1212 478 1208 486 1200 490"/>
<ellipse cx="1268" cy="461" rx="16" ry="8"/>
</g>
<g stroke="#4caf50">
<path d="M1248 424 C1258 416 1270 422 1280 412 C1290 404 1300 412 1310 406"/>
<path d="M1250 432 C1262 426 1274 432 1286 424 C1296 418 1304 424 1310 420"/>
<path d="M1254 440 C1266 436 1278 442 1290 434 C1298 430 1304 436 1308 432"/>
<path d="M1262 446 L1276 446 L1290 442 L1300 446"/>
<path d="M1262 484 C1270 478 1280 484 1290 478"/>
<path d="M1264 494 C1272 490 1282 496 1294 490"/>
<path d="M1262 504 C1270 500 1280 508 1290 502"/>
<path d="M1272 478 L1270 510"/>
<path d="M1240 448 C1245 444 1252 444 1258 446"/>
</g>
</g>
<text x="948" y="531" font-size="7.5" fill="#d04040" textLength="193" lengthAdjust="spacingAndGlyphs">(a) The feature distribution before cross-domain translation.</text>
<text x="1160" y="531" font-size="7.5" fill="#d04040" textLength="188" lengthAdjust="spacingAndGlyphs">(b) The feature distribution after cross-domain translation.</text>

<!-- ============ TRAJECTORY ============ -->
<text x="945" y="546" font-size="12" font-weight="bold" fill="#111">Trajectory visualization</text>
<path d="M945 547.5 L1061 547.5" stroke="#111" stroke-width=".8"/>
<rect x="987" y="554" width="11" height="10" fill="#f7a23e"/>
<text x="1002" y="562.5" font-size="10" fill="#222">SDE</text>
<rect x="1047" y="554" width="11" height="10" fill="#5b62b5"/>
<text x="1061" y="562.5" font-size="10" fill="#222">SDE+TDE</text>
<rect x="1125" y="554" width="11" height="10" fill="#d93a2a"/>
<text x="1139" y="562.5" font-size="10" fill="#222">SDE+TDE+FDE</text>
<rect x="1234" y="554" width="11" height="10" fill="#111"/>
<text x="1250" y="562.5" font-size="10" fill="#222">Ground Truth</text>
<rect x="960" y="566" width="188" height="96" fill="#fff" stroke="#bbb" stroke-width=".6"/>
<rect x="1162" y="566" width="187" height="96" fill="#fff" stroke="#bbb" stroke-width=".6"/>
<g stroke="#e6e6e6" stroke-width=".6">
<path d="M991 566V662M1022 566V662M1053 566V662M1084 566V662M1115 566V662M960 579H1148M960 596H1148M960 613H1148M960 630H1148M960 647H1148"/>
<path d="M1180 566V662M1212 566V662M1244 566V662M1276 566V662M1308 566V662M1162 577H1349M1162 593H1349M1162 609H1349M1162 625H1349M1162 641H1349M1162 657H1349"/>
</g>
<g fill="none" stroke-width="1.2" stroke-linejoin="round">
<path d="M974 618 L971 611 Q971 606 975 601 L992 578 L1050 614 L1064 600 L1080 575 L1121 569 L1132 571 L1138 580 L1136 583 L1128 576" stroke="#f7a23e"/>
<path d="M975 624 L972 617 Q972 612 976 607 L992 583 L1050 621 L1065 605 L1081 581 L1121 575 L1131 577 L1136 586 L1133 587 L1126 580" stroke="#5b62b5"/>
<path d="M977 622 L972 615 Q972 610 976 605 L992 581 L1051 619 L1065 603 L1081 579 L1121 573 L1132 575 L1138 584 L1135 586 L1127 578" stroke="#d93a2a"/>
<path d="M971 612 Q971 607 975 602 L992 580 L1050 616" stroke="#111"/>
<path d="M1034 658 L1065 603 L1081 577 L1121 570 L1132 572 L1137 580 L1134 584 L1127 577" stroke="#111"/>
<path d="M1331 628 L1330 638 Q1329 642 1324 642 L1185 645 Q1175 645 1175 636 L1174 580 Q1175 571 1184 571 L1330 576 Q1340 577 1339 586 L1338 610" stroke="#f7a23e"/>
<path d="M1335 620 L1334 643 Q1333 648 1328 648 L1190 648 Q1178 648 1178 640 L1177 582 Q1178 573 1187 573 L1328 579 Q1338 580 1338 590 L1337 620" stroke="#5b62b5"/>
<path d="M1333 625 L1332 645 Q1331 650 1326 650 L1188 651 Q1176 651 1176 642 L1175 581 Q1176 572 1186 572 L1330 578 Q1339 579 1339 588 L1337 625" stroke="#d93a2a"/>
<path d="M1333 630 L1332 653 Q1331 657 1326 656 L1218 655 L1186 652 Q1177 651 1177 644 L1176 586 Q1177 577 1186 577 L1330 582 Q1337 583 1336 590 L1334 630" stroke="#111"/>
</g>
<text x="1049" y="675" text-anchor="middle" font-size="9" fill="#c00000">(a)</text>
<text x="1252" y="675" text-anchor="middle" font-size="9" fill="#c00000">(b)</text>
</svg>
</body></html>
